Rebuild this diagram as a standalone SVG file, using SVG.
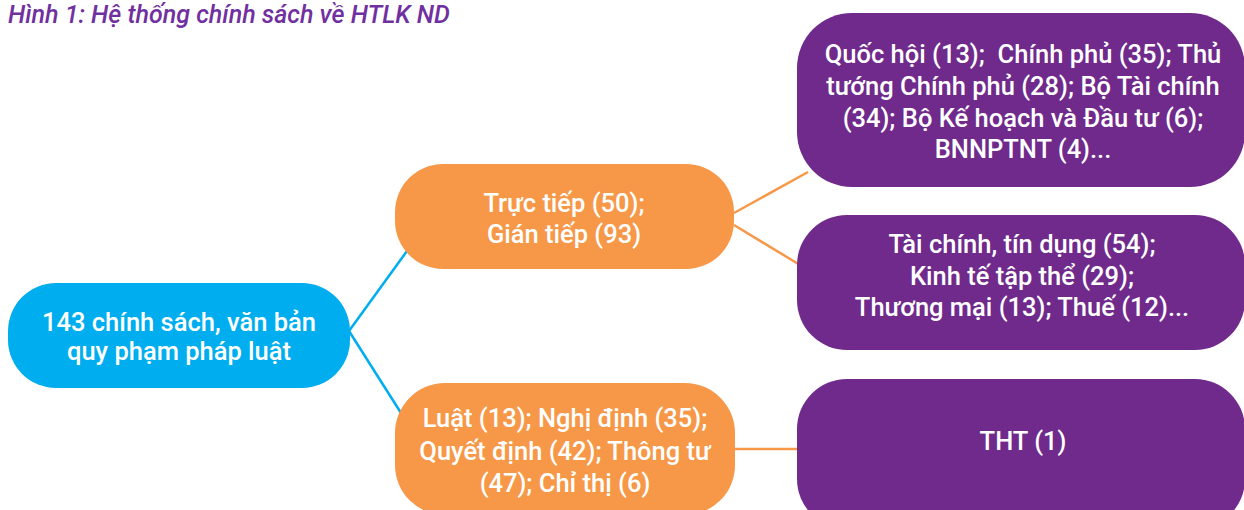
<svg xmlns="http://www.w3.org/2000/svg" width="1244" height="510" viewBox="0 0 1244 510">
<style>
.t{font-family:Roboto,"Liberation Sans",sans-serif;font-size:25.5px;font-weight:500;fill:#ffffff;text-anchor:middle}
.title{font-family:Roboto,"Liberation Sans",sans-serif;font-size:25px;font-weight:500;font-style:italic;fill:#7030A0}
.blue{fill:#00AEEF}
.orange{fill:#F79848}
.purple{fill:#6F2A8C}
.cb{stroke:#00AEEF;stroke-width:2.5;fill:none}
.co{stroke:#F79848;stroke-width:2.5;fill:none}
</style>
<rect width="1244" height="510" fill="#ffffff"/>
<text class="title" x="8" y="23">Hình 1: Hệ thống chính sách về HTLK ND</text>
<g id="connectors">
<line class="cb" x1="349" y1="331" x2="407" y2="251"/>
<line class="cb" x1="349" y1="331" x2="401" y2="413"/>
<line class="co" x1="734" y1="213" x2="808" y2="172"/>
<line class="co" x1="734" y1="225" x2="800" y2="265"/>
<line class="co" x1="734" y1="449" x2="800" y2="449"/>
</g>
<g id="root">
<rect class="blue" x="8" y="283" width="342" height="105" rx="48"/>
<text class="t" x="179" y="331">143 chính sách, văn bản</text>
<text class="t" x="179" y="360">quy phạm pháp luật</text>
</g>
<g id="direct">
<rect class="orange" x="395" y="164" width="339" height="105" rx="48"/>
<text class="t" x="564" y="212">Trực tiếp (50);</text>
<text class="t" x="564" y="243"> Gián tiếp (93)</text>
</g>
<g id="docs">
<rect class="orange" x="395" y="383" width="340" height="132" rx="50"/>
<text class="t" x="565" y="427">Luật (13); Nghị định (35);</text>
<text class="t" x="565" y="460">Quyết định (42); Thông tư</text>
<text class="t" x="565" y="492">(47); Chỉ thị (6)</text>
</g>
<g id="agencies">
<rect class="purple" x="797" y="13" width="448" height="174" rx="55"/>
<text class="t" x="1023" y="63">Quốc hội (13); &#160;Chính phủ (35); Thủ</text>
<text class="t" x="1023" y="95">tướng Chính phủ (28); Bộ Tài chính</text>
<text class="t" x="1023" y="127">(34); Bộ Kế hoạch và Đầu tư (6);</text>
<text class="t" x="1023" y="158">BNNPTNT (4)...</text>
</g>
<g id="fields">
<rect class="purple" x="797" y="215" width="448" height="135" rx="50"/>
<text class="t" x="1022" y="253">Tài chính, tín dụng (54);</text>
<text class="t" x="1022" y="285">Kinh tế tập thể (29);</text>
<text class="t" x="1022" y="316">Thương mại (13); Thuế (12)...</text>
</g>
<g id="tht">
<rect class="purple" x="797" y="379" width="448" height="150" rx="50"/>
<text class="t" x="1023" y="450">THT (1)</text>
</g>
</svg>
